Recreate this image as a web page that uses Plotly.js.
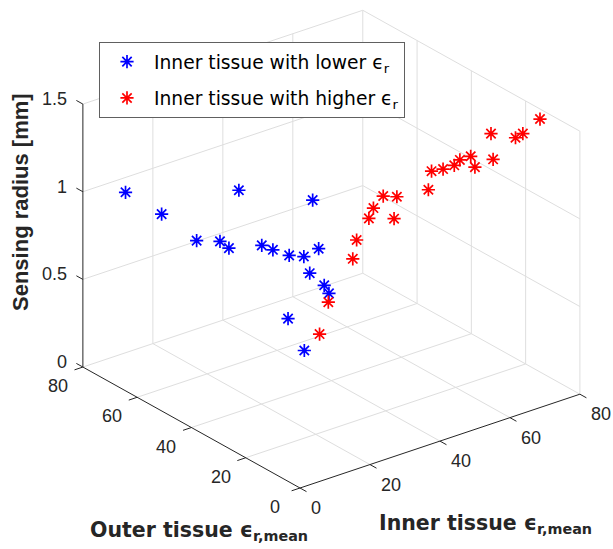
<!DOCTYPE html>
<html>
<head>
<meta charset="utf-8">
<script src="https://cdn.plot.ly/plotly-3.0.1.min.js"></script>
<style>html,body{margin:0;padding:0;background:#fff}#chart{width:613px;height:549px}</style>
</head>
<body>
<div id="chart"></div>
<script>
// ---- data: Inner tissue eps_r,mean (x), Outer tissue eps_r,mean (y), Sensing radius [mm] (z)
const blueInner  = [8, 30, 40, 8, 8, 8, 8, 8, 8, 8, 8, 30, 20, 35, 40, 10, 10];
const blueOuter  = [74.6, 61.2, 46.9, 61.3, 48.4, 39.8, 36.5, 24.4, 20.3, 14.3, 8.9, 31.8, 22.2, 36.2, 40.9, 17.3, 11.3];
const blueRadius = [0.99, 0.97, 0.97, 0.98, 0.94, 1.01, 1.00, 1.12, 1.13, 1.15, 1.19, 0.89, 0.90, 0.61, 0.49, 0.75, 0.62];

const redInner  = [17.4, 11.8, 30.6, 31.7, 35.2, 36.5, 39.3, 43.2, 42.4, 46.0, 46.9, 50.2, 53.4, 55.0, 58.1, 59.3, 64.5, 70.1, 70.9, 73.0, 77.9];
const redOuter  = [12, 8, 20, 20, 20, 20, 20, 20, 20, 12, 12, 12, 12, 12, 12, 12, 12, 20, 12, 12, 12];
const redRadius = [0.84, 0.73, 0.93, 1.03, 1.13, 1.18, 1.23, 1.20, 1.08, 1.29, 1.39, 1.38, 1.38, 1.40, 1.40, 1.33, 1.34, 1.38, 1.42, 1.43, 1.48];

const seriesNames = ['Inner tissue with lower ϵ<sub>r</sub>', 'Inner tissue with higher ϵ<sub>r</sub>'];
const xTicks = [0, 20, 40, 60, 80];     // Inner tissue
const yTicks = [0, 20, 40, 60, 80];     // Outer tissue
const zTicks = [0, 0.5, 1, 1.5];        // Sensing radius
const zTickText = ['0', '0.5', '1', '1.5'];

// ---- styles / view (orthographic 3-D view projected onto a 2-D pixel-unit plane)
const COLORS = ['#0000ff', '#ff0000'];
const AXC = '#262626', GRIDC = '#dedede';
const ARIAL = 'Liberation Sans, Arial, Helvetica, sans-serif';
const WIDE = 'DejaVu Sans, Verdana, sans-serif';
const VIEW = {az: 37.8, el: 25.6, sXY: 4.428, sZ: 194.4};
const XMAX = 80, YMAX = 80, ZMAX = 1.5, TICK = 2.4;

const d2r = Math.PI / 180;
const ca = Math.cos(VIEW.az * d2r), sa = Math.sin(VIEW.az * d2r);
const se = Math.sin(VIEW.el * d2r), ce = Math.cos(VIEW.el * d2r);
function proj(x, y, z) {
  return [VIEW.sXY * (x * ca - y * sa), VIEW.sXY * se * (x * sa + y * ca) + VIEW.sZ * ce * z];
}
function segTrace(segs, color, width) {
  const xs = [], ys = [];
  segs.forEach(([a, b]) => {
    const p = proj(...a), q = proj(...b);
    xs.push(p[0], q[0], null); ys.push(p[1], q[1], null);
  });
  return {type: 'scatter', mode: 'lines', x: xs, y: ys, line: {color: color, width: width},
          showlegend: false, hoverinfo: 'skip'};
}

// grid on the back planes and floor
const grid = [];
xTicks.filter(v => v > 0).forEach(v => {
  grid.push([[v, 0, 0], [v, YMAX, 0]]);          // floor
  grid.push([[v, YMAX, 0], [v, YMAX, ZMAX]]);    // back wall y = max
});
yTicks.filter(v => v > 0).forEach(v => grid.push([[0, v, 0], [XMAX, v, 0]]));
yTicks.filter(v => v < YMAX).forEach(v => grid.push([[XMAX, v, 0], [XMAX, v, ZMAX]]));
zTicks.filter(v => v > 0).forEach(v => {
  grid.push([[0, YMAX, v], [XMAX, YMAX, v]]);
  grid.push([[XMAX, 0, v], [XMAX, YMAX, v]]);
});

const axesLines = [
  [[0, 0, 0], [XMAX, 0, 0]],
  [[0, 0, 0], [0, YMAX, 0]],
  [[0, YMAX, 0], [0, YMAX, ZMAX]]
];
const ticks = [];
xTicks.forEach(v => ticks.push([[v, 0, 0], [v, -TICK, 0]]));
yTicks.forEach(v => ticks.push([[0, v, 0], [-TICK, v, 0]]));
zTicks.forEach(v => ticks.push([[0, YMAX, v], [0, YMAX + TICK, v]]));

function pts(x, y, z) {
  const P = x.map((_, i) => proj(x[i], y[i], z[i]));
  return {x: P.map(p => p[0]), y: P.map(p => p[1])};
}
function starTrace(x, y, z, i) {
  const p = pts(x, y, z);
  return {type: 'scatter', mode: 'markers', x: p.x, y: p.y, name: seriesNames[i], legendgroup: 'g' + i,
          marker: {symbol: 'asterisk-open', size: 11, color: COLORS[i], line: {color: COLORS[i], width: 1.7}},
          hoverinfo: 'skip'};
}

const data = [
  segTrace(grid, GRIDC, 1),
  segTrace(axesLines, AXC, 1),
  segTrace(ticks, AXC, 1),
  starTrace(blueInner, blueOuter, blueRadius, 0),
  starTrace(redInner, redOuter, redRadius, 1)
];

// tick labels placed at projected tick positions
const tickFont = {family: ARIAL, size: 18, color: AXC};
const annotations = [];
xTicks.forEach(v => { const p = proj(v, 0, 0);
  annotations.push({x: p[0], y: p[1], xref: 'x', yref: 'y', text: String(v), showarrow: false,
    xanchor: 'left', yanchor: 'middle', xshift: 10, yshift: -20, borderpad: 0, font: tickFont}); });
yTicks.forEach(v => { const p = proj(0, v, 0);
  annotations.push({x: p[0], y: p[1], xref: 'x', yref: 'y', text: String(v), showarrow: false,
    xanchor: 'center', yanchor: 'middle', xshift: -25, yshift: -19, borderpad: 0, font: tickFont}); });
zTicks.forEach((v, i) => { const p = proj(0, YMAX, v);
  annotations.push({x: p[0], y: p[1], xref: 'x', yref: 'y', text: zTickText[i], showarrow: false,
    xanchor: 'right', yanchor: 'middle', xshift: -15, yshift: 5, borderpad: 0, font: tickFont}); });

// axis titles
annotations.push(
  {xref: 'paper', yref: 'paper', x: 20 / 613, y: 1 - 202 / 549, xanchor: 'center', yanchor: 'middle',
   textangle: -90, showarrow: false, borderpad: 0,
   text: '<b>Sensing radius [mm]</b>', font: {family: ARIAL, size: 22, color: AXC}},
  {xref: 'paper', yref: 'paper', x: 89 / 613, y: 1 - 517 / 549, xanchor: 'left', yanchor: 'top',
   showarrow: false, borderpad: 0,
   text: '<b>Outer tissue ϵ<sub>r,mean</sub></b>', font: {family: WIDE, size: 20.5, color: AXC}},
  {xref: 'paper', yref: 'paper', x: 378 / 613, y: 1 - 510 / 549, xanchor: 'left', yanchor: 'top',
   showarrow: false, borderpad: 0,
   text: '<b>Inner tissue ϵ<sub>r,mean</sub></b>', font: {family: WIDE, size: 20.5, color: AXC}}
);

const layout = {
  width: 613, height: 549,
  margin: {l: 0, r: 0, t: 0, b: 0},
  paper_bgcolor: '#fff', plot_bgcolor: '#fff',
  xaxis: {range: [-300, 313], visible: false, fixedrange: true},
  yaxis: {range: [-61, 488], visible: false, fixedrange: true},
  showlegend: true,
  legend: {x: 99 / 613, y: 1 - 42 / 549, xanchor: 'left', yanchor: 'top',
           bgcolor: '#fff', bordercolor: '#606060', borderwidth: 1,
           font: {family: WIDE, size: 18.7, color: '#000'}, tracegroupgap: 9, itemwidth: 44},
  annotations: annotations
};

Plotly.newPlot('chart', data, layout, {displayModeBar: false, staticPlot: true});
</script>
</body>
</html>
